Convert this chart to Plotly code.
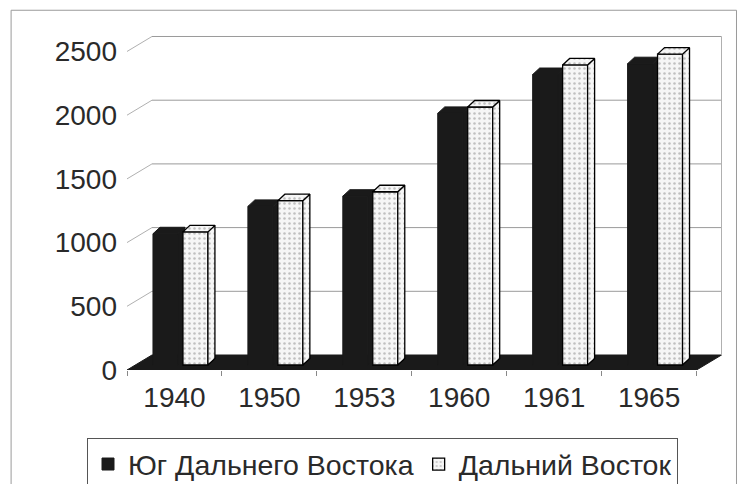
import plotly.graph_objects as go

# ---- data ----
years = ["1940", "1950", "1953", "1960", "1961", "1965"]
south_far_east = [1030, 1245, 1325, 1975, 2280, 2365]   # Юг Дальнего Востока
far_east = [1045, 1290, 1360, 2025, 2355, 2440]         # Дальний Восток
y_ticks = [0, 500, 1000, 1500, 2000, 2500]
series_names = ["Юг Дальнего Востока", "Дальний Восток"]

# ---- geometry / style (pseudo-3D) ----
W, H = 745, 484
PX_PER_CAT = 95.0
PX_PER_UNIT = 0.1275
L = 127.0
X_RANGE = [-0.5, 5.8]
Y_RANGE = [0, 2700]
plot_w = (X_RANGE[1] - X_RANGE[0]) * PX_PER_CAT
plot_h = (Y_RANGE[1] - Y_RANGE[0]) * PX_PER_UNIT
BOTTOM = 370.0
TOP = BOTTOM - plot_h
R = W - L - plot_w

FLOOR_DX = 25 / PX_PER_CAT
FLOOR_DY = 15 / PX_PER_UNIT
BAR_BASE = 5 / PX_PER_UNIT
BAR_W = 25 / PX_PER_CAT
BAR_DX = 7 / PX_PER_CAT
BAR_DY = 6.5 / PX_PER_UNIT
OFFSETS = [-9 / PX_PER_CAT, 21 / PX_PER_CAT]

DARK = "#1a1a1a"
FONT = "Liberation Sans, Arial, sans-serif"
TXT = "#2a2a2a"
pattern = dict(shape=".", fgcolor="#8a8a8a", bgcolor="#f6f6f6", size=5, solidity=0.2)

xs = list(range(len(years)))
fig = go.Figure()

# floor
x0, x1 = X_RANGE[0], len(years) - 0.5
fig.add_trace(go.Scatter(
    x=[x0, x1, x1 + FLOOR_DX, x0 + FLOOR_DX, x0],
    y=[0, 0, FLOOR_DY, FLOOR_DY, 0],
    fill="toself", fillcolor=DARK, mode="lines", line=dict(color=DARK, width=1),
    showlegend=False, hoverinfo="skip", zorder=0))

# back wall gridlines, connectors and right edge
gx, gy = [], []
for t in y_ticks[1:]:
    gx += [x0 + FLOOR_DX, x1 + FLOOR_DX, None]
    gy += [t + FLOOR_DY, t + FLOOR_DY, None]
fig.add_trace(go.Scatter(x=gx, y=gy, mode="lines", line=dict(color="#9a9a9a", width=1),
                         showlegend=False, hoverinfo="skip", zorder=0))
cx, cy = [], []
for t in y_ticks[1:]:
    cx += [x0, x0 + FLOOR_DX, None]
    cy += [t, t + FLOOR_DY, None]
cx += [x1 + FLOOR_DX, x1 + FLOOR_DX, None]
cy += [FLOOR_DY, y_ticks[-1] + FLOOR_DY, None]
fig.add_trace(go.Scatter(x=cx, y=cy, mode="lines", line=dict(color="#b0b0b0", width=1),
                         showlegend=False, hoverinfo="skip", zorder=0))


def faces(values, off):
    sx, sy, tx, ty = [], [], [], []
    for i, v in zip(xs, values):
        xl = i + off - BAR_W / 2
        xr = xl + BAR_W
        b = BAR_BASE
        tp = BAR_BASE + v
        sx += [xr, xr + BAR_DX, xr + BAR_DX, xr, xr, None]
        sy += [b, b + BAR_DY, tp + BAR_DY, tp, b, None]
        tx += [xl, xr, xr + BAR_DX, xl + BAR_DX, xl, None]
        ty += [tp, tp, tp + BAR_DY, tp + BAR_DY, tp, None]
    return sx, sy, tx, ty


for k, (vals, name) in enumerate([(south_far_east, series_names[0]), (far_east, series_names[1])]):
    off = OFFSETS[k]
    z = 1 + 2 * k
    if k == 0:
        marker = dict(color=DARK, line=dict(color=DARK, width=1))
        face_kw = dict(fillcolor=DARK, line=dict(color=DARK, width=1))
    else:
        marker = dict(color="#f6f6f6", pattern=pattern, line=dict(color="#000", width=1.3))
        face_kw = dict(fillcolor="#f6f6f6", fillpattern=pattern, line=dict(color="#000", width=1.3))
    fig.add_trace(go.Bar(
        x=xs, y=vals, base=BAR_BASE, width=BAR_W, offset=off - BAR_W / 2,
        name=name, marker=marker, zorder=z, hoverinfo="skip"))
    sx, sy, tx, ty = faces(vals, off)
    fig.add_trace(go.Scatter(x=sx, y=sy, mode="lines", fill="toself", showlegend=False,
                             hoverinfo="skip", zorder=z + 1, **face_kw))
    fig.add_trace(go.Scatter(x=tx, y=ty, mode="lines", fill="toself", showlegend=False,
                             hoverinfo="skip", zorder=z + 1, **face_kw))


def px_to_paper(px, py):
    return (px - L) / plot_w, (BOTTOM - py) / plot_h


bx0, by0 = px_to_paper(11, 10)
bx1, by1 = px_to_paper(737, 496)
fig.add_shape(type="rect", xref="paper", yref="paper", x0=bx0, y0=by1, x1=bx1, y1=by0,
              line=dict(color="#9a9a9a", width=1), layer="below")

fig.update_layout(
    width=W, height=H, autosize=False,
    margin=dict(l=L, r=R, t=TOP, b=H - BOTTOM, autoexpand=False, pad=0),
    paper_bgcolor="white", plot_bgcolor="white",
    barmode="overlay",
    font=dict(family=FONT, size=28, color=TXT),
    xaxis=dict(range=X_RANGE, tickmode="array", tickvals=xs, ticktext=years,
               showgrid=False, zeroline=False, showline=False, ticks="",
               ticklabelstandoff=8,
               minor=dict(tickvals=[i + 0.5 for i in range(-1, len(years))],
                          ticks="outside", ticklen=5, tickcolor="#888", showgrid=False),
               tickfont=dict(size=28, color=TXT, family=FONT)),
    yaxis=dict(range=Y_RANGE, tickmode="array", tickvals=y_ticks,
               showgrid=False, zeroline=False, showline=False, ticks="",
               ticklabelstandoff=9,
               tickfont=dict(size=28, color=TXT, family=FONT)),
    legend=dict(orientation="h", xref="container", yref="container",
                x=87 / W, y=1 - 438 / H, xanchor="left", yanchor="top",
                bordercolor="#555", borderwidth=1, bgcolor="white",
                font=dict(size=28.5, color=TXT, family=FONT)),
)

fig.write_html("out.html", config={"displayModeBar": False},
               post_script="document.body.style.margin='0';document.body.style.overflow='hidden';")
